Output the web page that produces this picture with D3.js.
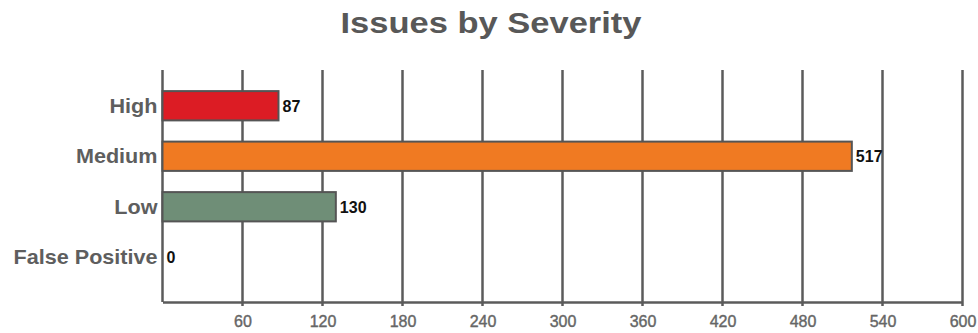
<!DOCTYPE html>
<html>
<head>
<meta charset="utf-8">
<script src="https://cdn.jsdelivr.net/npm/d3@7"></script>
<style>
  html, body { margin: 0; padding: 0; background: #fff; }
  svg { display: block; font-family: "Liberation Sans", Arial, sans-serif; }
</style>
</head>
<body>
<svg id="chart" width="978" height="333"></svg>
<script>
// Issue counts per severity level
const categories = ["High", "Medium", "Low", "False Positive"];
const counts = [87, 517, 130, 0];
const barColors = ["#dc1c24", "#f07a22", "#6f8e77", "#999999"];
const tickValues = [60, 120, 180, 240, 300, 360, 420, 480, 540, 600];
const titleText = "Issues by Severity";

const svg = d3.select("#chart");
const W = 978;
const plot = { left: 162.5, right: 962.5, top: 70, bottom: 302 };
const lineColor = "#5b5b5b";

const x = d3.scaleLinear().domain([0, 600]).range([plot.left, plot.right]);
const y = d3.scaleBand()
  .domain(categories)
  .range([80.5, 282.5])
  .paddingInner(0.42)
  .paddingOuter(0.21);

// Title
svg.append("text")
  .attr("transform", `translate(${W / 2 + 2},33) scale(1.15,1)`)
  .attr("text-anchor", "middle")
  .attr("font-size", 30)
  .attr("font-weight", "bold")
  .attr("fill", "#585858")
  .text(titleText);

// Vertical gridlines
svg.append("g")
  .selectAll("line")
  .data(tickValues)
  .join("line")
  .attr("x1", d => x(d)).attr("x2", d => x(d))
  .attr("y1", plot.top).attr("y2", plot.bottom + 4)
  .attr("stroke", lineColor)
  .attr("stroke-width", 2.5);

// Left axis line
svg.append("line")
  .attr("x1", x(0)).attr("x2", x(0))
  .attr("y1", plot.top).attr("y2", plot.bottom)
  .attr("stroke", lineColor)
  .attr("stroke-width", 2.5);

// Bottom axis
const xAxis = svg.append("g")
  .attr("transform", `translate(0,${plot.bottom})`)
  .call(d3.axisBottom(x).tickValues(tickValues).tickSize(0).tickPadding(14));
xAxis.select(".domain")
  .attr("stroke", lineColor)
  .attr("stroke-width", 2.5);
xAxis.selectAll(".tick text")
  .attr("font-family", "'Liberation Sans', Arial, sans-serif")
  .attr("font-size", 16)
  .attr("fill", "#666")
  .attr("stroke", "#666")
  .attr("stroke-width", 0.4);

// Category labels
svg.append("g")
  .selectAll("text")
  .data(categories)
  .join("text")
  .attr("transform", d => `translate(${plot.left - 5},${y(d) + y.bandwidth() / 2}) scale(1.08,1)`)
  .attr("dy", "0.36em")
  .attr("text-anchor", "end")
  .attr("font-size", 20)
  .attr("font-weight", "bold")
  .attr("fill", "#5e5e5e")
  .text(d => d);

// Bars
const rows = categories.map((c, i) => ({ c, v: counts[i], color: barColors[i] }));
svg.append("g")
  .selectAll("rect")
  .data(rows.filter(d => d.v > 0))
  .join("rect")
  .attr("x", x(0))
  .attr("y", d => y(d.c))
  .attr("width", d => x(d.v) - x(0))
  .attr("height", y.bandwidth())
  .attr("fill", d => d.color)
  .attr("stroke", "#555")
  .attr("stroke-width", 2);

// Value labels
svg.append("g")
  .selectAll("text")
  .data(rows)
  .join("text")
  .attr("x", d => x(d.v) + 4)
  .attr("y", d => y(d.c) + y.bandwidth() / 2)
  .attr("dy", "0.36em")
  .attr("font-size", 16)
  .attr("font-weight", "bold")
  .attr("fill", "#111")
  .text(d => d.v);
</script>
</body>
</html>
